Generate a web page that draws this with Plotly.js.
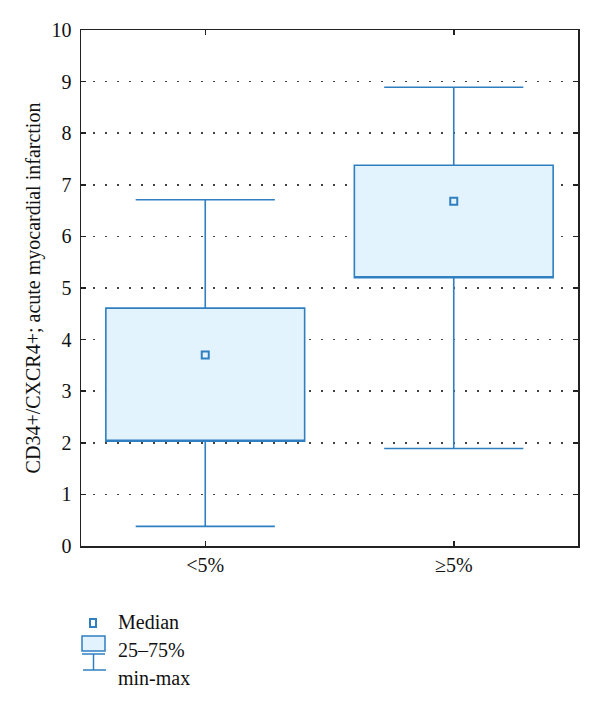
<!DOCTYPE html>
<html>
<head>
<meta charset="utf-8">
<script src="https://cdn.plot.ly/plotly-3.0.1.min.js"></script>
<style>
  body { margin: 0; background: white; }
  #chart { width: 600px; height: 710px; }
</style>
</head>
<body>
<div id="chart"></div>
<script>
// Box data
const groups = ["<5%", "≥5%"];
const minVals = [0.38, 1.89];
const q1Vals = [2.03, 5.2];
const medianVals = [3.7, 6.68];
const q3Vals = [4.61, 7.38];
const maxVals = [6.71, 8.89];

const legendLabels = ["Median", "25–75%", "min-max"];

const blue = "#2f7fc1";
const lightBlue = "#e2f3fd";
const fontFam = "Liberation Serif, Times New Roman, serif";

// plot area in pixels (for placing the hand-made legend)
const plotL = 81, plotR = 578, plotT = 30, plotB = 546;
function px(x) { return (x - plotL) / (plotR - plotL); }
function py(y) { return (plotB - y) / (plotB - plotT); }

var traces = [
  {
    type: "box",
    x: groups,
    q1: q1Vals,
    median: q1Vals,   // median drawn as a marker below, keep the line on the box edge
    q3: q3Vals,
    lowerfence: minVals,
    upperfence: maxVals,
    width: 0.8,
    whiskerwidth: 0.7,
    fillcolor: lightBlue,
    line: { color: blue, width: 1.6 },
    hoverinfo: "skip",
    showlegend: false
  },
  {
    type: "scatter",
    mode: "markers",
    x: groups,
    y: medianVals,
    marker: {
      symbol: "square-open",
      size: 7,
      color: blue,
      line: { color: blue, width: 2 }
    },
    showlegend: false
  }
];

// Legend drawn by hand
var shapes = [
  { type: "rect", xref: "paper", yref: "paper",
    x0: px(90), x1: px(96), y0: py(627), y1: py(619),
    line: { color: blue, width: 2 }, fillcolor: "white" },
  { type: "rect", xref: "paper", yref: "paper",
    x0: px(82), x1: px(105), y0: py(651), y1: py(636),
    line: { color: blue, width: 1.5 }, fillcolor: lightBlue },
  { type: "line", xref: "paper", yref: "paper",
    x0: px(82), x1: px(105), y0: py(654), y1: py(654),
    line: { color: blue, width: 1.5 } },
  { type: "line", xref: "paper", yref: "paper",
    x0: px(93.5), x1: px(93.5), y0: py(654), y1: py(670),
    line: { color: blue, width: 1.5 } },
  { type: "line", xref: "paper", yref: "paper",
    x0: px(83), x1: px(106), y0: py(670), y1: py(670),
    line: { color: blue, width: 1.5 } }
];

var legendY = [622, 650, 678];
var annotations = legendLabels.map(function(t, i) {
  return {
    text: t, xref: "paper", yref: "paper",
    x: px(116), y: py(legendY[i]),
    xanchor: "left", yanchor: "middle",
    showarrow: false,
    font: { family: fontFam, size: 20, color: "#111" }
  };
});

var layout = {
  width: 600,
  height: 710,
  margin: { l: plotL, r: 600 - plotR, t: plotT, b: 710 - plotB },
  paper_bgcolor: "white",
  plot_bgcolor: "white",
  font: { family: fontFam, size: 20, color: "#111" },
  showlegend: false,
  xaxis: {
    type: "category",
    range: [-0.5, 1.5],
    showgrid: false,
    zeroline: false,
    showline: true,
    linecolor: "#222",
    linewidth: 1.5,
    mirror: "ticks",
    ticks: "inside",
    ticklen: 5,
    tickwidth: 1.5,
    tickcolor: "#222",
    tickfont: { family: fontFam, size: 20 }
  },
  yaxis: {
    range: [0, 10],
    dtick: 1,
    showgrid: true,
    gridcolor: "#444",
    gridwidth: 1.5,
    griddash: "1.5px,10.5px",
    zeroline: false,
    showline: true,
    linecolor: "#222",
    linewidth: 1.5,
    mirror: "ticks",
    ticks: "inside",
    ticklen: 5,
    tickwidth: 1.5,
    tickcolor: "#222",
    ticklabelstandoff: 4,
    tickfont: { family: fontFam, size: 20 },
    title: {
      text: "CD34+/CXCR4+; acute myocardial infarction",
      font: { family: fontFam, size: 20 },
      standoff: 5
    }
  },
  shapes: shapes,
  annotations: annotations
};

Plotly.newPlot("chart", traces, layout, { displayModeBar: false, staticPlot: true });
</script>
</body>
</html>
